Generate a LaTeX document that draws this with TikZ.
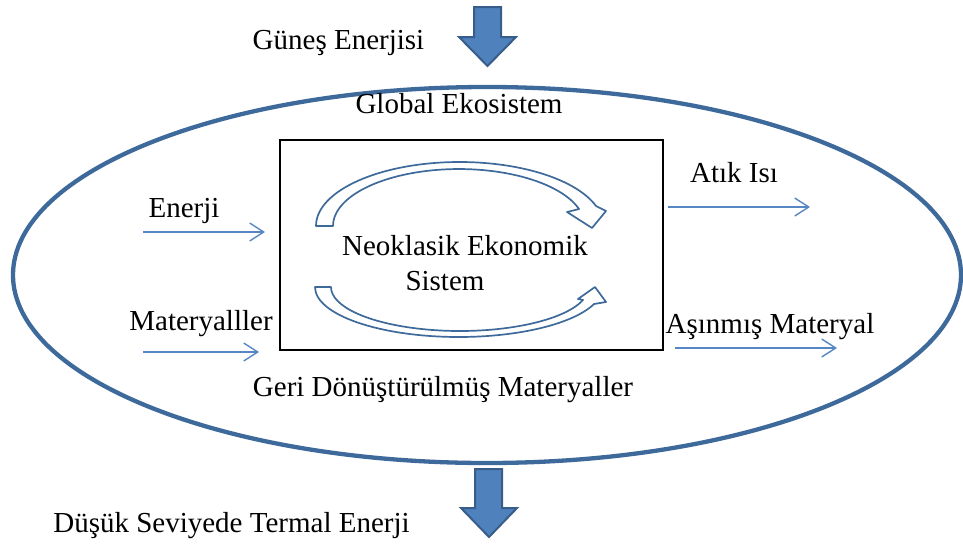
\documentclass[tikz,border=0pt]{standalone}
\usepackage{fontspec}
\setmainfont{Liberation Serif}
\usetikzlibrary{arrows.meta}
\definecolor{ringblue}{RGB}{62,106,155}
\definecolor{flowblue}{RGB}{86,135,196}
\definecolor{blockfill}{RGB}{79,129,189}
\definecolor{blockedge}{RGB}{56,93,138}
\begin{document}
\begin{tikzpicture}[x=1pt,y=-1pt,
  lbl/.style={font=\fontsize{29}{34}\selectfont, anchor=base, inner sep=0pt},
  flow/.style={draw=flowblue, line width=1.4pt,
    -{Straight Barb[length=14pt,width=18pt,line width=1.4pt]}},
  bigarrow/.style={fill=blockfill, draw=blockedge, line width=2pt, line join=miter},
  cycarrow/.style={fill=white, draw=ringblue, line width=1.7pt, line join=round}]
\useasboundingbox (0,0) rectangle (963,544);

% global ecosystem boundary
\draw[ringblue, line width=4.3pt] (487,275) ellipse [x radius=474, y radius=188];

% economic system box
\node[draw=black, line width=1.3pt, minimum width=383, minimum height=210, inner sep=0pt]
  (econ) at (471.5,245) {};

% incoming solar energy and outgoing low-grade heat
\draw[bigarrow] (474,7) -- (501,7) -- (501,37) -- (516,37) -- (487.5,66)
  -- (459,37) -- (474,37) -- cycle;
\draw[bigarrow] (475,469) -- (502,469) -- (502,508) -- (517,508) -- (489,537)
  -- (461,508) -- (475,508) -- cycle;

% circular flow inside the economy
\draw[cycarrow] (316,226)
  arc[start angle=180, end angle=341.8, x radius=143.6, y radius=64]
  -- (606,211) -- (592,228) -- (567,212) -- (579,209)
  arc[start angle=342.6, end angle=180, x radius=125.9, y radius=57] -- cycle;
\draw[cycarrow] (315,287)
  arc[start angle=180, end angle=19.9, x radius=143.8, y radius=50]
  -- (606,302) -- (595,287) -- (578,299) -- (583,300)
  arc[start angle=17.2, end angle=180, x radius=128.9, y radius=44] -- cycle;

% labels
\node[lbl] (sun)    at (338.5,49)  {Güneş Enerjisi};
\node[lbl] (eco)    at (459,113)   {Global Ekosistem};
\node[lbl] (energy) at (184,217)   {Enerji};
\node[lbl] (mat)    at (201,330)   {Materyalller};
\node[lbl] (heat)   at (734,182)   {Atık Isı};
\node[lbl] (worn)   at (770,333)   {Aşınmış Materyal};
\node[lbl] (neo1)   at (465,255)   {Neoklasik Ekonomik};
\node[lbl] (neo2)   at (445,290)   {Sistem};
\node[lbl] (recyc)  at (443,396)   {Geri Dönüştürülmüş Materyaller};
\node[lbl] (low)    at (231.5,532) {Düşük Seviyede Termal Enerji};

% material and energy flows
\coordinate (eIn0)  at (143,232);
\coordinate (eIn1)  at (265,232);
\coordinate (mIn0)  at (143,352);
\coordinate (mIn1)  at (259,352);
\coordinate (hOut0) at (668,207);
\coordinate (hOut1) at (810,207);
\coordinate (wOut0) at (675,348);
\coordinate (wOut1) at (837,348);
\draw[flow] (eIn0) -- (eIn1);
\draw[flow] (mIn0) -- (mIn1);
\draw[flow] (hOut0) -- (hOut1);
\draw[flow] (wOut0) -- (wOut1);
\end{tikzpicture}
\end{document}
